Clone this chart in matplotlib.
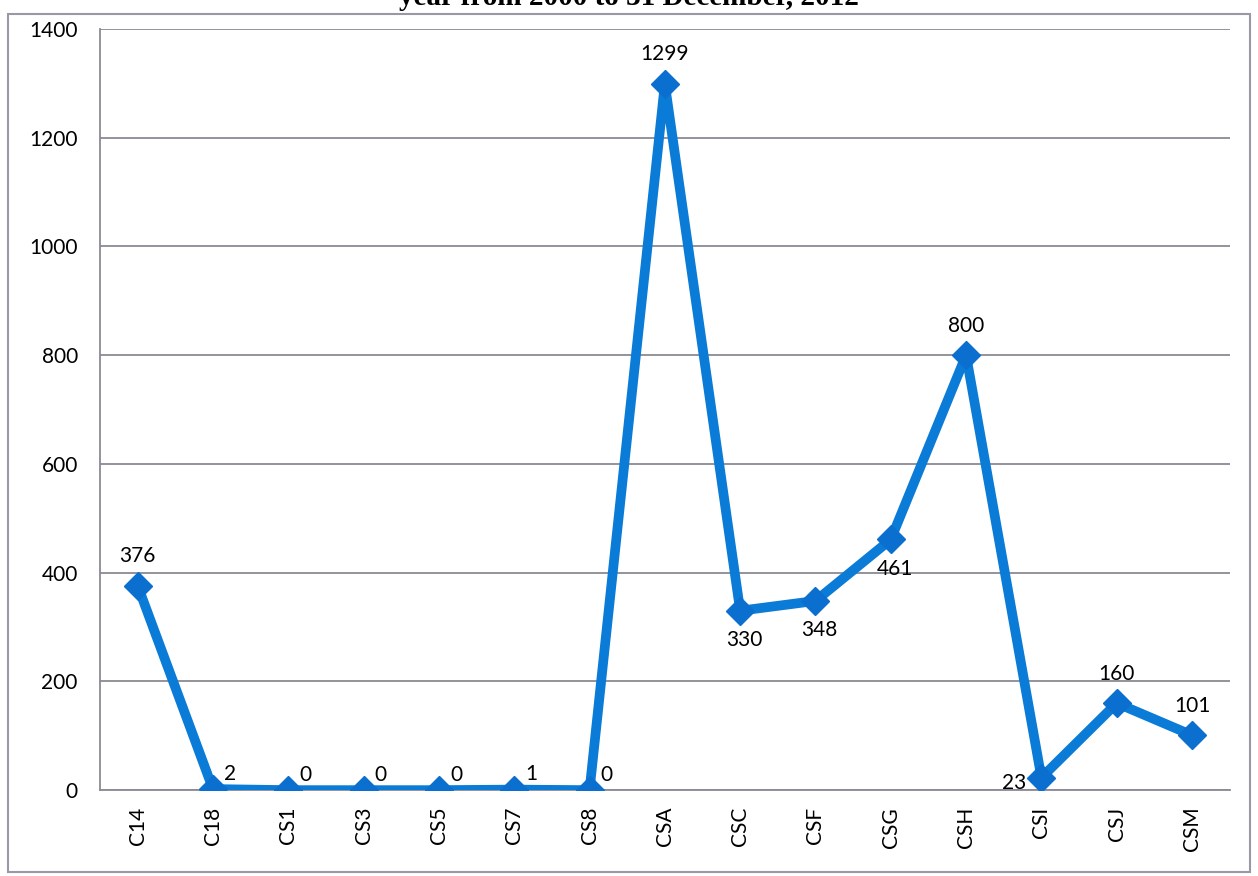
import matplotlib
matplotlib.use("Agg")
import matplotlib.pyplot as plt
from matplotlib.patches import Rectangle

# data
categories = ["C14", "C18", "CS1", "CS3", "CS5", "CS7", "CS8", "CSA",
              "CSC", "CSF", "CSG", "CSH", "CSI", "CSJ", "CSM"]
counts = [376, 2, 0, 0, 0, 1, 0, 1299, 330, 348, 461, 800, 23, 160, 101]
y_ticks = [0, 200, 400, 600, 800, 1000, 1200, 1400]

# where each data label sits relative to its marker
label_side = ["above", "upright", "upright", "upright", "upright", "upright", "upright",
              "above", "below", "below", "below", "above", "left", "above", "above"]
offsets = {
    "above": (0, 14, "center", "bottom"),
    "below": (3, -14, "center", "top"),
    "upright": (8, 4, "left", "bottom"),
    "left": (-11, -4, "right", "center"),
}

plt.rcParams["font.family"] = ["Lato", "DejaVu Sans"]

fig = plt.figure(figsize=(12.58, 8.76), dpi=100)
ax = fig.add_axes([0.0795, 0.098, 0.898, 0.869])

x = list(range(len(categories)))
ax.plot(x, counts, color="#0a7bd6", lw=7, marker="D", markersize=14,
        markerfacecolor="#0a6fcf", markeredgecolor="#0a6fcf", zorder=3,
        solid_joinstyle="round")

for xi, v, side in zip(x, counts, label_side):
    dx, dy, ha, va = offsets[side]
    ax.annotate(str(v), (xi, v), xytext=(dx, dy), textcoords="offset points",
                ha=ha, va=va, fontsize=15, color="black", zorder=4)

ax.set_xlim(-0.5, len(categories) - 0.5)
ax.set_ylim(0, 1400)
ax.set_yticks(y_ticks)
ax.set_xticks(x)
ax.set_xticklabels(categories, rotation=90, fontsize=15)
ax.tick_params(axis="y", labelsize=15, length=0, pad=16)
ax.tick_params(axis="x", length=0, pad=12)

ax.grid(axis="y", color="#8a8a96", lw=1.3)
ax.set_axisbelow(True)
for s in ["top", "right"]:
    ax.spines[s].set_visible(False)
for s in ["left", "bottom"]:
    ax.spines[s].set_color("#8a8a96")
    ax.spines[s].set_linewidth(1.3)

# outer chart border
fig.patches.append(Rectangle((0.006, 0.004), 0.988, 0.98, transform=fig.transFigure,
                             fill=False, edgecolor="#9a98a4", lw=1.5))

# title, cut off at the top of the scan as in the reference
fig.text(0.5, 1 - 5 / 876, "year from 2000 to 31 December, 2012", ha="center",
         va="baseline", fontsize=21, fontweight="bold", family="Liberation Serif")

fig.savefig("out.png", dpi=100)
